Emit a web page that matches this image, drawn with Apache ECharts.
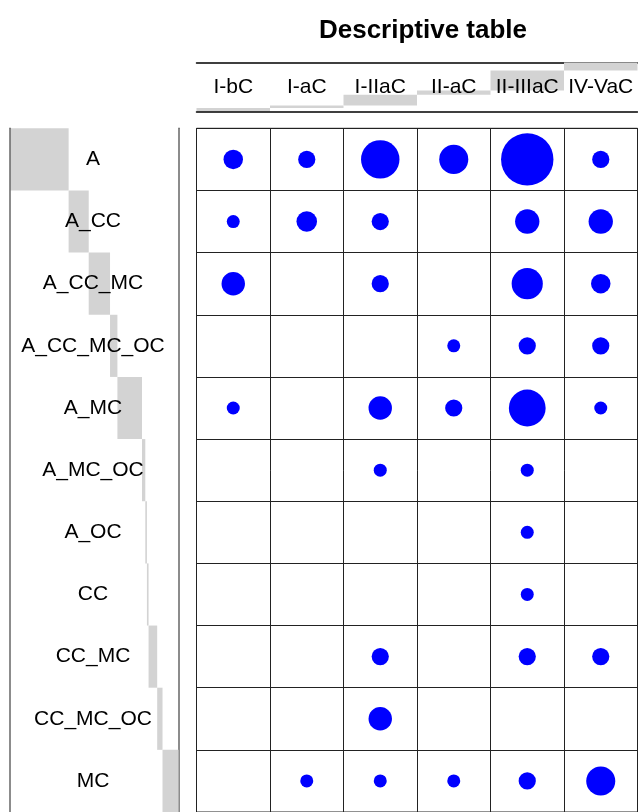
<!DOCTYPE html>
<html>
<head>
<meta charset="utf-8">
<script src="https://cdn.jsdelivr.net/npm/echarts@6/dist/echarts.min.js"></script>
<style>
html,body{margin:0;padding:0;background:#fff;}
#chart{width:638px;height:812px;}
</style>
</head>
<body>
<div id="chart"></div>
<script>
// Categories
const rowLabels = ['A','A_CC','A_CC_MC','A_CC_MC_OC','A_MC','A_MC_OC','A_OC','CC','CC_MC','CC_MC_OC','MC'];
const colLabels = ['I-bC','I-aC','I-IIaC','II-aC','II-IIIaC','IV-VaC'];

// Values per row (columns: I-bC, I-aC, I-IIaC, II-aC, II-IIIaC, IV-VaC)
const rowA        = [9, 7, 35, 20, 65, 7];
const rowA_CC     = [4, 10, 7, 0, 14, 14];
const rowA_CC_MC  = [13, 0, 7, 0, 23, 9];
const rowA_CC_MC_OC = [0, 0, 0, 4, 7, 7];
const rowA_MC     = [4, 0, 13, 7, 32, 4];
const rowA_MC_OC  = [0, 0, 4, 0, 4, 0];
const rowA_OC     = [0, 0, 0, 0, 4, 0];
const rowCC       = [0, 0, 0, 0, 4, 0];
const rowCC_MC    = [0, 0, 7, 0, 7, 7];
const rowCC_MC_OC = [0, 0, 13, 0, 0, 0];
const rowMC       = [0, 4, 4, 4, 7, 20];

const matrix = [rowA,rowA_CC,rowA_CC_MC,rowA_CC_MC_OC,rowA_MC,rowA_MC_OC,rowA_OC,rowCC,rowCC_MC,rowCC_MC_OC,rowMC];

const rowTotals = matrix.map(r => r.reduce((a,b)=>a+b,0));
const colTotals = colLabels.map((_,j) => matrix.reduce((a,r)=>a+r[j],0));
const grand = rowTotals.reduce((a,b)=>a+b,0);
const rowOffsets = []; let acc = 0;
rowTotals.forEach(t => { rowOffsets.push(acc); acc += t; });
const colOffsets = []; acc = 0;
colTotals.forEach(t => { colOffsets.push(acc); acc += t; });

const points = [];
matrix.forEach((r,i) => r.forEach((v,j) => { if (v > 0) points.push([j, i, v]); }));

const FONT = "'Liberation Sans', Arial, sans-serif";
const chart = echarts.init(document.getElementById('chart'), null, {renderer:'canvas'});
const gridTop = 128.3, rowH = 62.4;

chart.setOption({
  animation: false,
  backgroundColor: '#fff',
  title: {
    text: 'Descriptive table',
    left: 418, top: 13, textAlign: 'center',
    textStyle: {fontSize: 26, fontWeight: 'bold', color: '#000', fontFamily: FONT}
  },
  grid: [
    {left: 196.5, right: 0.5, top: gridTop, height: rowH*rowLabels.length, show: true, borderColor: '#222', borderWidth: 1},
    {left: 10, width: 168.5, top: gridTop, height: rowH*rowLabels.length},
    {left: 196.5, right: 0.5, top: 62.5, height: 49}
  ],
  xAxis: [
    {gridIndex: 0, type: 'category', data: colLabels, position: 'top',
     axisLine: {show: false}, axisTick: {show: false}, axisLabel: {show: false},
     splitLine: {show: true, interval: 0, lineStyle: {color: '#222', width: 1}}},
    {gridIndex: 1, type: 'value', min: 0, max: grand, show: false},
    {gridIndex: 2, type: 'category', data: colLabels, position: 'bottom', z: 10,
     axisLine: {show: true, lineStyle: {color: '#000', width: 1.5}}, axisTick: {show: false},
     axisLabel: {show: true, interval: 0, inside: true, margin: 24, verticalAlign: 'middle',
                 fontSize: 21, color: '#000', fontFamily: FONT},
     splitLine: {show: false}},
    {gridIndex: 2, type: 'category', data: colLabels, position: 'top',
     axisLine: {show: true, lineStyle: {color: '#000', width: 1.5}}, axisTick: {show: false},
     axisLabel: {show: false}, splitLine: {show: false}}
  ],
  yAxis: [
    {gridIndex: 0, type: 'category', data: rowLabels, inverse: true,
     axisLine: {show: false}, axisTick: {show: false}, axisLabel: {show: false},
     splitLine: {show: true, interval: 0, lineStyle: {color: '#222', width: 1}}},
    {gridIndex: 1, type: 'category', data: rowLabels, inverse: true, position: 'left', z: 10,
     axisLine: {show: true, lineStyle: {color: '#666', width: 1.5}}, axisTick: {show: false},
     axisLabel: {show: true, interval: 0, inside: true, margin: 83, align: 'center',
                 fontSize: 21, color: '#000', fontFamily: FONT},
     splitLine: {show: false}},
    {gridIndex: 1, type: 'category', data: rowLabels, inverse: true, position: 'right',
     axisLine: {show: true, lineStyle: {color: '#666', width: 1.5}}, axisTick: {show: false},
     axisLabel: {show: false}, splitLine: {show: false}},
    {gridIndex: 2, type: 'value', min: 0, max: grand, show: false}
  ],
  series: [
    {type: 'bar', xAxisIndex: 1, yAxisIndex: 1, stack: 'rows', data: rowOffsets,
     itemStyle: {color: 'rgba(0,0,0,0)'}, barCategoryGap: '0%', barGap: '0%', silent: true},
    {type: 'bar', xAxisIndex: 1, yAxisIndex: 1, stack: 'rows', data: rowTotals,
     itemStyle: {color: '#D3D3D3'}, barCategoryGap: '0%', barGap: '0%'},
    {type: 'bar', xAxisIndex: 2, yAxisIndex: 3, stack: 'cols', data: colOffsets,
     itemStyle: {color: 'rgba(0,0,0,0)'}, barCategoryGap: '0%', barGap: '0%', silent: true},
    {type: 'bar', xAxisIndex: 2, yAxisIndex: 3, stack: 'cols', data: colTotals,
     itemStyle: {color: '#D3D3D3'}, barCategoryGap: '0%', barGap: '0%'},
    {type: 'scatter', xAxisIndex: 0, yAxisIndex: 0, data: points,
     symbol: 'circle', symbolSize: v => 6.5*Math.sqrt(v[2]),
     itemStyle: {color: '#0000FF', opacity: 1}, z: 5}
  ]
});
</script>
</body>
</html>
